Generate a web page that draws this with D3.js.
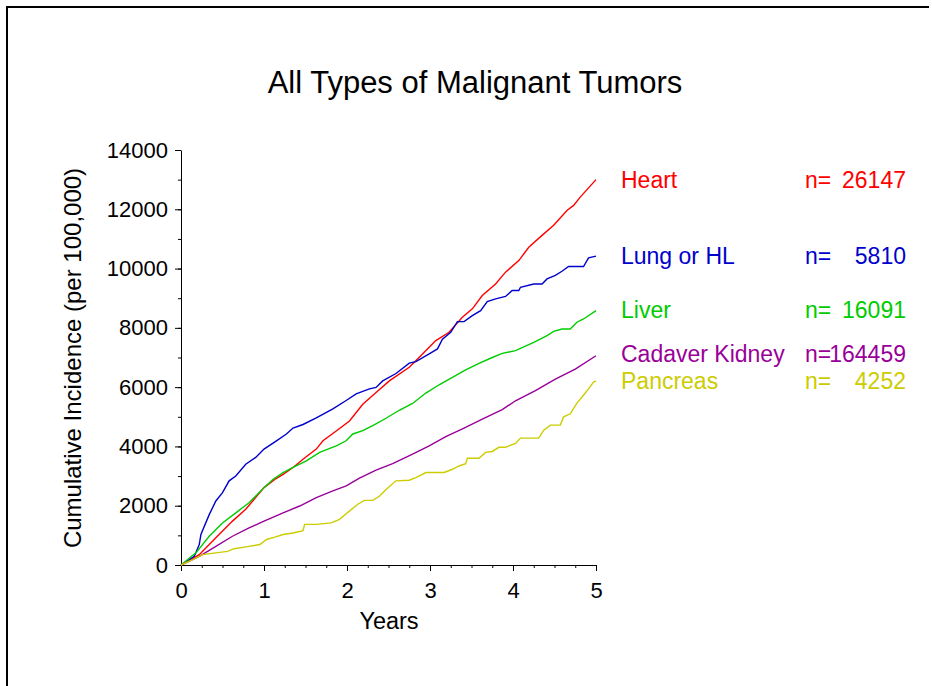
<!DOCTYPE html>
<html>
<head>
<meta charset="utf-8">
<script src="https://cdn.jsdelivr.net/npm/d3@7"></script>
<style>
  body { margin: 0; background: #fff; }
  text { font-family: Arial, "Liberation Sans", sans-serif; }
</style>
</head>
<body>
<script>
var width = 932;
var height = 686;

// years since transplant
var heartT = [0, 0.22, 0.42, 0.62, 0.78, 1.0, 1.13, 1.23, 1.35, 1.47, 1.63, 1.71, 1.87, 2.03, 2.19, 2.35, 2.51, 2.75, 2.91, 3.07, 3.23, 3.39, 3.51, 3.63, 3.79, 3.91, 4.07, 4.19, 4.35, 4.49, 4.65, 4.73, 4.81, 5.0];
var heartV = [0, 350, 920, 1480, 1880, 2610, 2890, 3060, 3290, 3570, 3910, 4190, 4520, 4860, 5420, 5820, 6210, 6670, 7120, 7570, 7850, 8360, 8640, 9090, 9480, 9880, 10270, 10720, 11120, 11460, 11960, 12130, 12410, 13000];

var lungT = [0, 0.16, 0.22, 0.24, 0.34, 0.42, 0.5, 0.58, 0.66, 0.78, 0.9, 1.0, 1.15, 1.27, 1.35, 1.47, 1.63, 1.83, 1.99, 2.11, 2.27, 2.35, 2.43, 2.59, 2.75, 2.83, 2.99, 3.09, 3.15, 3.25, 3.33, 3.41, 3.51, 3.61, 3.69, 3.79, 3.91, 3.99, 4.07, 4.09, 4.25, 4.35, 4.41, 4.51, 4.59, 4.67, 4.85, 4.91, 5.0];
var lungV = [0, 290, 690, 1030, 1700, 2160, 2440, 2840, 3000, 3400, 3630, 3910, 4190, 4420, 4620, 4740, 4960, 5270, 5550, 5770, 5940, 5990, 6210, 6460, 6810, 6860, 7120, 7290, 7620, 7850, 8210, 8210, 8410, 8580, 8890, 8980, 9060, 9260, 9260, 9370, 9480, 9480, 9650, 9770, 9910, 10070, 10070, 10360, 10420];

var liverT = [0, 0.18, 0.34, 0.5, 0.66, 0.82, 1.0, 1.11, 1.23, 1.35, 1.51, 1.67, 1.87, 1.99, 2.07, 2.19, 2.31, 2.47, 2.63, 2.79, 2.95, 3.11, 3.27, 3.43, 3.59, 3.75, 3.87, 4.03, 4.25, 4.41, 4.49, 4.59, 4.69, 4.77, 4.85, 5.0];
var liverV = [0, 410, 970, 1420, 1760, 2100, 2610, 2890, 3120, 3290, 3510, 3800, 4020, 4190, 4420, 4530, 4700, 4950, 5220, 5450, 5800, 6080, 6330, 6580, 6800, 7000, 7140, 7230, 7510, 7740, 7880, 7960, 7960, 8190, 8300, 8580];

var kidneyT = [0, 0.22, 0.42, 0.62, 0.82, 1.0, 1.23, 1.43, 1.63, 1.83, 1.99, 2.15, 2.35, 2.55, 2.79, 2.99, 3.19, 3.41, 3.63, 3.87, 4.03, 4.27, 4.51, 4.75, 5.0];
var kidneyV = [0, 290, 630, 970, 1250, 1480, 1760, 1990, 2270, 2500, 2670, 2930, 3200, 3420, 3740, 4020, 4330, 4620, 4920, 5240, 5540, 5880, 6270, 6610, 7060];

var pancT = [0, 0.14, 0.26, 0.42, 0.56, 0.64, 0.78, 0.95, 1.03, 1.13, 1.23, 1.35, 1.47, 1.49, 1.63, 1.81, 1.91, 1.99, 2.13, 2.21, 2.31, 2.39, 2.47, 2.59, 2.75, 2.83, 2.95, 3.17, 3.27, 3.35, 3.43, 3.45, 3.59, 3.67, 3.75, 3.83, 3.91, 4.03, 4.09, 4.31, 4.37, 4.45, 4.57, 4.61, 4.69, 4.77, 4.83, 4.91, 4.97, 5.0];
var pancV = [0, 180, 350, 410, 460, 550, 610, 690, 860, 940, 1030, 1080, 1160, 1370, 1370, 1420, 1540, 1730, 2050, 2180, 2180, 2320, 2550, 2840, 2860, 2950, 3120, 3120, 3230, 3340, 3420, 3600, 3600, 3800, 3830, 3970, 3970, 4100, 4280, 4280, 4550, 4720, 4720, 5000, 5100, 5460, 5660, 5940, 6170, 6200];

var groups = ["Heart", "Lung or HL", "Liver", "Cadaver Kidney", "Pancreas"];
var counts = ["26147", "5810", "16091", "164459", "4252"];
var colors = ["#ff0000", "#0000cc", "#00cc00", "#990099", "#cccc00"];
var legendY = [180, 256, 310, 354, 381];

var yTicks = [0, 2000, 4000, 6000, 8000, 10000, 12000, 14000];
var xTicks = [0, 1, 2, 3, 4, 5];

var series = [
  {t: heartT, v: heartV},
  {t: lungT, v: lungV},
  {t: liverT, v: liverV},
  {t: kidneyT, v: kidneyV},
  {t: pancT, v: pancV}
];

var svg = d3.select("body").append("svg")
    .attr("width", width)
    .attr("height", height);

// frame
svg.append("path")
    .attr("d", "M7," + height + " L7,7 L929,7")
    .attr("fill", "none")
    .attr("stroke", "black")
    .attr("stroke-width", 2);

var x = d3.scaleLinear().domain([0, 5]).range([181, 596]);
var y = d3.scaleLinear().domain([0, 14000]).range([565, 150]);

// minor ticks first, majors on top
svg.append("g")
    .attr("transform", "translate(0,565)")
    .call(d3.axisBottom(x).tickValues(d3.range(0, 5.01, 0.25)).tickSize(3).tickFormat(""))
    .call(function(g) { g.select(".domain").remove(); });
svg.append("g")
    .attr("transform", "translate(181,0)")
    .call(d3.axisLeft(y).tickValues(d3.range(0, 14001, 1000)).tickSize(3).tickFormat(""))
    .call(function(g) { g.select(".domain").remove(); });

var xAxis = svg.append("g")
    .attr("transform", "translate(0,565)")
    .call(d3.axisBottom(x).tickValues(xTicks).tickSize(6).tickSizeOuter(0).tickPadding(11).tickFormat(d3.format("d")));
xAxis.selectAll("text").attr("font-size", 22).attr("font-family", "Arial, 'Liberation Sans', sans-serif").attr("fill", "black");

var yAxis = svg.append("g")
    .attr("transform", "translate(181,0)")
    .call(d3.axisLeft(y).tickValues(yTicks).tickSize(6).tickSizeOuter(0).tickPadding(7).tickFormat(d3.format("d")));
yAxis.selectAll("text").attr("font-size", 22).attr("font-family", "Arial, 'Liberation Sans', sans-serif").attr("fill", "black");

svg.selectAll(".domain, .tick line").attr("stroke", "black");

var line = d3.line()
    .x(function(d) { return x(d[0]); })
    .y(function(d) { return y(d[1]); });

svg.selectAll(".curve")
    .data(series)
    .enter().append("path")
    .attr("class", "curve")
    .attr("fill", "none")
    .attr("stroke", function(d, i) { return colors[i]; })
    .attr("stroke-width", 1.4)
    .attr("d", function(d) {
      return line(d.t.map(function(t, j) { return [t, d.v[j]]; }));
    });

// title and axis titles
svg.append("text")
    .attr("x", 475).attr("y", 93)
    .attr("text-anchor", "middle")
    .attr("font-size", 31)
    .text("All Types of Malignant Tumors");

svg.append("text")
    .attr("x", 389).attr("y", 629)
    .attr("text-anchor", "middle")
    .attr("font-size", 23.5)
    .text("Years");

svg.append("text")
    .attr("transform", "translate(81,358) rotate(-90)")
    .attr("text-anchor", "middle")
    .attr("font-size", 24)
    .text("Cumulative Incidence (per 100,000)");

// legend
var leg = svg.selectAll(".leg")
    .data(groups)
    .enter().append("g")
    .attr("class", "leg");
leg.append("text")
    .attr("x", 621)
    .attr("y", function(d, i) { return legendY[i] + 8; })
    .attr("font-size", 23)
    .attr("fill", function(d, i) { return colors[i]; })
    .text(function(d) { return d; });
leg.append("text")
    .attr("x", 805)
    .attr("y", function(d, i) { return legendY[i] + 8; })
    .attr("font-size", 23)
    .attr("fill", function(d, i) { return colors[i]; })
    .text("n=");
leg.append("text")
    .attr("x", 906)
    .attr("y", function(d, i) { return legendY[i] + 8; })
    .attr("text-anchor", "end")
    .attr("font-size", 23)
    .attr("fill", function(d, i) { return colors[i]; })
    .text(function(d, i) { return counts[i]; });
</script>
</body>
</html>
